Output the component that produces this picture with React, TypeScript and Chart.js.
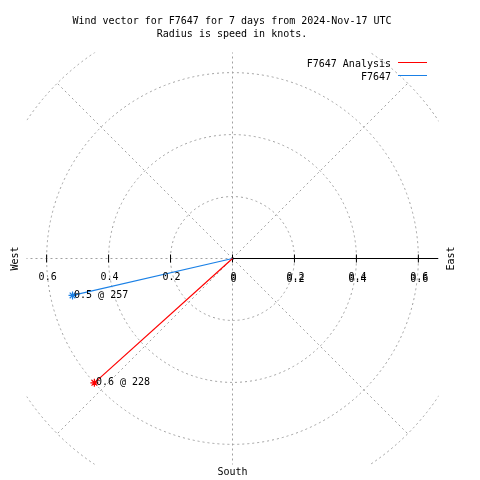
import React, { useEffect, useRef } from "react";
import { Chart, registerables } from "chart.js";

Chart.register(...registerables);

// ---- data ----
const seriesNames = ["F7647 Analysis", "F7647"];
const speeds = [0.6, 0.53]; // knots
const directions = [228, 257]; // degrees (compass bearing)
const seriesColors = ["#ff0000", "#1a80e6"];
const tickValues = [-0.6, -0.4, -0.2, 0, 0.2, 0.4, 0.6];
const ringValues = [0.2, 0.4, 0.6, 0.8];
const spokeBearings = [0, 45, 90, 135, 180, 225, 270, 315];
const titleLines = [
  "Wind vector for F7647 for 7 days from 2024-Nov-17 UTC",
  "Radius is speed in knots.",
];
const compassWest = "West";
const compassEast = "East";
const compassSouth = "South";

const FONT = "10px 'DejaVu Sans Mono', 'Liberation Mono', monospace";
const GRID = "#a0a0a0";

const toXY = (speed: number, dir: number) => {
  const a = (dir * Math.PI) / 180;
  return { x: speed * Math.sin(a), y: speed * Math.cos(a) };
};

const polarPlugin = {
  id: "polarGrid",
  beforeDatasetsDraw(chart: any) {
    const { ctx, chartArea: ca } = chart;
    const xs = chart.scales.x;
    const ys = chart.scales.y;
    const cx = xs.getPixelForValue(0);
    const cy = ys.getPixelForValue(0);
    const ppu = xs.getPixelForValue(1) - cx;
    ctx.save();
    ctx.beginPath();
    ctx.rect(ca.left, ca.top, ca.right - ca.left, ca.bottom - ca.top);
    ctx.clip();
    ctx.strokeStyle = GRID;
    ctx.lineWidth = 1;
    ctx.setLineDash([2, 3]);
    ringValues.forEach((r) => {
      ctx.beginPath();
      ctx.arc(cx, cy, r * ppu, 0, Math.PI * 2);
      ctx.stroke();
    });
    const maxR = ringValues[ringValues.length - 1];
    spokeBearings.forEach((b) => {
      if (b === 90) return;
      const p = toXY(maxR, b);
      ctx.beginPath();
      ctx.moveTo(cx, cy);
      ctx.lineTo(xs.getPixelForValue(p.x), ys.getPixelForValue(p.y));
      ctx.stroke();
    });
    ctx.setLineDash([]);
    ctx.strokeStyle = "#000";
    ctx.beginPath();
    ctx.moveTo(cx, cy);
    ctx.lineTo(ca.right, cy);
    ctx.stroke();
    tickValues.forEach((v) => {
      const px = xs.getPixelForValue(v);
      ctx.beginPath();
      ctx.moveTo(px, cy - 4);
      ctx.lineTo(px, cy + 4);
      ctx.stroke();
    });
    ctx.restore();
  },
  afterDraw(chart: any) {
    const { ctx } = chart;
    const xs = chart.scales.x;
    const ys = chart.scales.y;
    const cx = xs.getPixelForValue(0);
    const cy = ys.getPixelForValue(0);
    ctx.save();
    ctx.font = FONT;
    ctx.fillStyle = "#000";
    // tick labels
    ctx.textAlign = "center";
    ctx.textBaseline = "alphabetic";
    tickValues.forEach((v) => {
      const px = xs.getPixelForValue(v) + 1;
      const label = String(Math.abs(v));
      ctx.fillText(label, px, cy + 21);
      if (v >= 0) ctx.fillText(label, px, cy + 23);
    });
    // title
    ctx.fillText(titleLines[0], 232, 24);
    ctx.fillText(titleLines[1], 232, 37);
    // compass labels
    ctx.fillText(compassSouth, cx, 475);
    ctx.textBaseline = "middle";
    [
      [compassWest, 15],
      [compassEast, 451],
    ].forEach(([t, x]) => {
      ctx.save();
      ctx.translate(x as number, cy);
      ctx.rotate(-Math.PI / 2);
      ctx.fillText(t as string, 0, 0);
      ctx.restore();
    });
    // legend
    ctx.textAlign = "right";
    ctx.textBaseline = "alphabetic";
    seriesNames.forEach((n, i) => {
      const base = 67 + i * 13;
      ctx.fillStyle = "#000";
      ctx.fillText(n, 391, base);
      ctx.strokeStyle = seriesColors[i];
      ctx.lineWidth = 1;
      ctx.beginPath();
      ctx.moveTo(398, base - 4.5);
      ctx.lineTo(427, base - 4.5);
      ctx.stroke();
    });
    // point labels
    ctx.textAlign = "left";
    ctx.textBaseline = "middle";
    ctx.fillStyle = "#000";
    speeds.forEach((s, i) => {
      const p = toXY(s, directions[i]);
      const px = xs.getPixelForValue(p.x);
      const py = ys.getPixelForValue(p.y);
      ctx.fillText(`${s.toFixed(1)} @ ${directions[i]}`, px + 1.5, py);
    });
    ctx.restore();
  },
};

export default function App() {
  const ref = useRef<HTMLCanvasElement | null>(null);
  useEffect(() => {
    if (!ref.current) return;
    const datasets = seriesNames.map((name, i) => {
      const end = toXY(speeds[i], directions[i]);
      return {
        label: name,
        data: [
          { x: 0, y: 0 },
          { x: end.x, y: end.y },
        ],
        showLine: true,
        borderColor: seriesColors[i],
        backgroundColor: seriesColors[i],
        borderWidth: 1.2,
        pointStyle: "star",
        pointRadius: [0, 4],
        pointBorderWidth: 1.2,
      };
    });
    const chart = new Chart(ref.current, {
      type: "scatter",
      data: { datasets },
      options: {
        animation: false,
        responsive: false,
        maintainAspectRatio: false,
        layout: { padding: { left: 26.5, right: 41.5, top: 52.5, bottom: 15.5 } },
        plugins: { legend: { display: false }, tooltip: { enabled: false }, title: { display: false } },
        scales: {
          x: { type: "linear", min: -0.665, max: 0.665, display: false },
          y: { type: "linear", min: -0.665, max: 0.665, display: false },
        },
      } as any,
      plugins: [polarPlugin],
    });
    return () => chart.destroy();
  }, []);
  return (
    <div style={{ position: "absolute", left: 0, top: 0, width: 480, height: 480, background: "#fff" }}>
      <canvas ref={ref} width={480} height={480} style={{ display: "block" }} />
    </div>
  );
}
